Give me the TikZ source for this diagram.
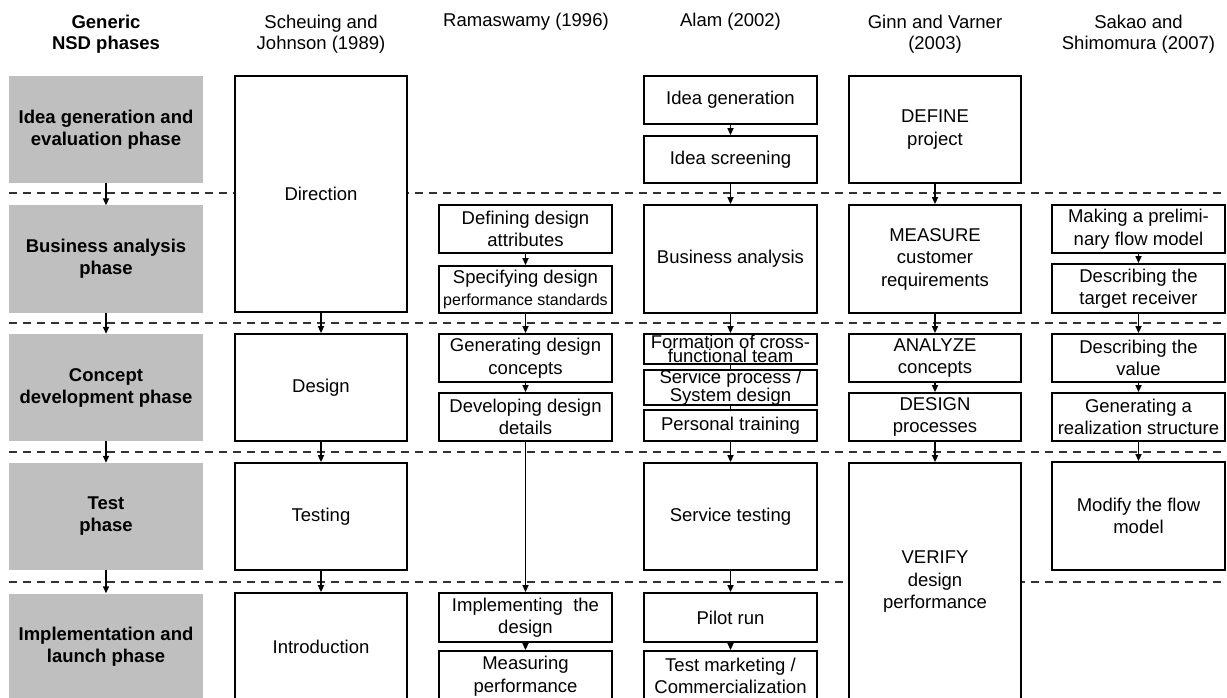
\documentclass[tikz,border=0pt]{standalone}
\usepackage{fontspec}
\setmainfont{Liberation Sans}
\usetikzlibrary{arrows.meta}
\definecolor{phasegray}{rgb}{0.75,0.75,0.75}
\definecolor{sepgray}{rgb}{0.2,0.2,0.2}

\begin{document}
\begin{tikzpicture}[line cap=butt,line join=miter,x=1pt,y=-1pt,
  >={Triangle[length=7pt,width=6pt]},
  phase/.style={fill=phasegray,inner sep=0pt,align=center,minimum width=194pt,minimum height=107pt,font=\fontsize{18.5}{22}\selectfont\bfseries},
  stage/.style={draw,line width=1.8pt,fill=white,inner sep=0pt,align=center,minimum width=173pt,font=\fontsize{18.5}{22.5}\selectfont},
  head/.style={inner sep=0pt,align=center,font=\fontsize{18.5}{21}\selectfont},
  flow/.style={->,line width=1.6pt},
  sep/.style={line width=1.6pt,color=sepgray,dash pattern=on 8pt off 6pt}]
\useasboundingbox (0,0) rectangle (1227,698);
\clip (0,0) rectangle (1227,698);
% separators between the phases
\foreach \y in {193,323,452,582}
  \draw [sep] (9,\y) -- (1230,\y);
% column heads
\node[head] (hgen) at (106,34) {\bfseries Generic\\\bfseries NSD phases};
\node[head] (hsch) at (321,34) {Scheuing and\\Johnson (1989)};
\node[head] (hram) at (526,22) {Ramaswamy (1996)};
\node[head] (hala) at (730.5,22) {Alam (2002)};
\node[head] (hgin) at (935,34) {Ginn and Varner\\(2003)};
\node[head] (hsak) at (1138.5,34) {Sakao and\\Shimomura (2007)};
% generic phases
\node[phase] (p1) at (106,129.5) {Idea generation and\\evaluation phase};
\node[phase] (p2) at (106,259) {Business analysis\\phase};
\node[phase] (p3) at (106,387.5) {Concept\\development phase};
\node[phase] (p4) at (106,516.5) {Test\\phase};
\node[phase] (p5) at (106,647) {Implementation and\\launch phase};
% Scheuing and Johnson
\node[stage,minimum width=172pt,minimum height=236pt] (s1) at (321,194) {Direction};
\node[stage,minimum width=172pt,minimum height=107pt] (s2) at (321,387.5) {Design};
\node[stage,minimum width=172pt,minimum height=107pt] (s3) at (321,516.5) {Testing};
\node[stage,minimum width=172pt,minimum height=108pt] (s4) at (321,647) {Introduction};
% Ramaswamy
\node[stage,minimum height=48pt] (r1) at (525.5,229) {Defining design\\attributes};
\node[stage,minimum height=47pt] (r2) at (525.5,289.5) {Specifying design\\{\fontsize{16}{18}\selectfont performance standards}};
\node[stage,minimum height=48pt] (r3) at (525.5,358) {Generating design\\concepts};
\node[stage,minimum height=48pt] (r4) at (525.5,417) {Developing design\\details};
\node[stage,minimum height=49pt] (r5) at (525.5,617.5) {Implementing~ the\\design};
\node[stage,minimum height=50pt] (r6) at (525.5,676) {Measuring\\performance};
% Alam
\node[stage,minimum height=48pt] (a1) at (730.5,100) {Idea generation};
\node[stage,minimum height=47pt] (a2) at (730.5,159.5) {Idea screening};
\node[stage,minimum height=108pt] (a3) at (730.5,259) {Business analysis};
\node[stage,minimum height=30pt,font=\fontsize{18.5}{12.5}\selectfont] (a4) at (730.5,349) {Formation of cross-\\functional team};
\node[stage,minimum height=31pt,font=\fontsize{18.5}{12.5}\selectfont] (a5) at (730.5,387.5) {Service process /\\System design};
\node[stage,minimum height=31pt] (a6) at (730.5,425.5) {Personal training};
\node[stage,minimum height=107pt] (a7) at (730.5,516.5) {Service testing};
\node[stage,minimum height=49pt] (a8) at (730.5,617.5) {Pilot run};
\node[stage,minimum height=50pt] (a9) at (730.5,676) {Test marketing /\\Commercialization};
% Ginn and Varner
\node[stage,minimum width=172pt,minimum height=107pt] (g1) at (935,129.5) {DEFINE\\project};
\node[stage,minimum width=172pt,minimum height=108pt] (g2) at (935,259) {MEASURE\\customer\\requirements};
\node[stage,minimum width=172pt,minimum height=48pt] (g3) at (935,358) {ANALYZE\\concepts};
\node[stage,minimum width=172pt,minimum height=48pt] (g4) at (935,417) {DESIGN\\processes};
\node[stage,minimum width=172pt,minimum height=238pt] (g5) at (935,582) {VERIFY\\design\\performance};
% Sakao and Shimomura
\node[stage,minimum height=48pt] (k1) at (1138.5,229) {Making a prelimi-\\nary flow model};
\node[stage,minimum height=49pt] (k2) at (1138.5,288.5) {Describing the\\target receiver};
\node[stage,minimum height=48pt] (k3) at (1138.5,358) {Describing the\\value};
\node[stage,minimum height=48pt] (k4) at (1138.5,417) {Generating a\\realization structure};
\node[stage,minimum height=108pt] (k5) at (1138.5,516) {Modify the flow\\model};
% flows
\foreach \a/\b in {p1/p2,p2/p3,p3/p4,p4/p5,s1/s2,s2/s3,s3/s4,r1/r2,r2/r3,r3/r4,r4/r5,r5/r6,
  a1/a2,a2/a3,a3/a4,a6/a7,a7/a8,a8/a9,g1/g2,g2/g3,g3/g4,g4/g5,k1/k2,k2/k3,k3/k4,k4/k5}
  \draw [flow] (\a.south) -- (\b.north);
\draw [line width=1.6pt] (a4.south) -- (a5.north);
\draw [line width=1.6pt] (a5.south) -- (a6.north);
\end{tikzpicture}
\end{document}
